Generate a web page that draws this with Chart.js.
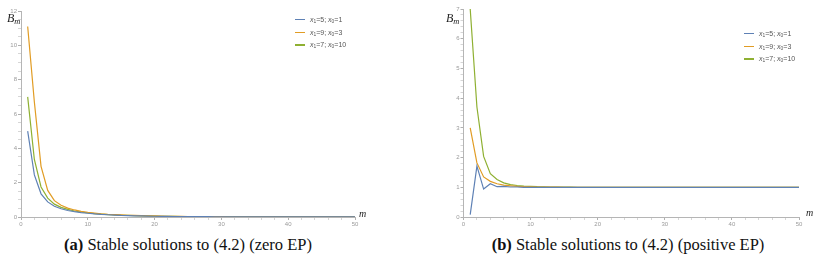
<!DOCTYPE html>
<html>
<head>
<meta charset="utf-8">
<script src="https://cdn.jsdelivr.net/npm/chart.js@4/dist/chart.umd.min.js"></script>
<style>
  html, body { margin: 0; padding: 0; background: #fff; }
  #wrap { position: relative; width: 824px; height: 272px; overflow: hidden; background: #fff; }
  .box { position: absolute; }
  .lbl { position: absolute; font-family: "Liberation Serif", serif; font-style: italic; color: #222; white-space: nowrap; line-height: 1; }
  .lbl sub { font-size: 0.7em; vertical-align: -0.25em; }
  .legend { position: absolute; font-family: "Liberation Sans", Arial, sans-serif; font-size: 7px; color: #555; line-height: 1; }
  .legend .row { position: relative; height: 12.7px; white-space: nowrap; }
  .legend .sw { position: absolute; left: 0; top: 3px; width: 10px; height: 1.3px; }
  .legend .tx { position: absolute; left: 15px; top: 0; }
  .legend i { font-style: italic; }
  .legend sub { font-size: 0.7em; vertical-align: -0.2em; }
  .cap { position: absolute; font-family: "Liberation Serif", "Times New Roman", serif; font-size: 16.5px; line-height: 16.5px; color: #111; text-align: center; white-space: nowrap; }
</style>
</head>
<body>
<div id="wrap">
  <div class="box" id="b1" style="left:0;top:0;width:420px;height:232px;"><canvas id="c1"></canvas></div>
  <div class="box" id="b2" style="left:420px;top:0;width:404px;height:232px;"><canvas id="c2"></canvas></div>

  <div class="lbl" style="left:7px;top:12px;font-size:12px;">B<sub>m</sub></div>
  <div class="lbl" style="left:359px;top:209px;font-size:10px;">m</div>
  <div class="lbl" style="left:446px;top:12px;font-size:12px;">B<sub>m</sub></div>
  <div class="lbl" style="left:806px;top:208px;font-size:10px;">m</div>

  <div class="legend" id="leg1" style="left:295px;top:16px;"></div>
  <div class="legend" id="leg2" style="left:744px;top:30px;"></div>

  <div class="cap" style="left:38px;top:237px;width:300px;"><b>(a)</b> Stable solutions to (4.2) (zero EP)</div>
  <div class="cap" style="left:478px;top:237px;width:300px;"><b>(b)</b> Stable solutions to (4.2) (positive EP)</div>
</div>
<script>
// ---- data ----
const mValues = [1,2,3,4,5,6,7,8,9,10,11,12,13,14,15,16,17,18,19,20,21,22,23,24,25,26,27,28,29,30,31,32,33,34,35,36,37,38,39,40,41,42,43,44,45,46,47,48,49,50];

const seriesLabels = ["x1=5; x0=1", "x1=9; x0=3", "x1=7; x0=10"];
const seriesColors = ["#5E81B5", "#E19C24", "#8FB032"];

// (a) zero EP
const zeroBlue = [5.0, 2.45, 1.35, 0.88, 0.63, 0.48, 0.38, 0.31, 0.26, 0.22, 0.18, 0.15, 0.13, 0.11, 0.09, 0.08, 0.07, 0.06, 0.05, 0.045, 0.04, 0.035, 0.03, 0.027, 0.024, 0.021, 0.019, 0.017, 0.015, 0.013, 0.012, 0.011, 0.01, 0.009, 0.008, 0.007, 0.007, 0.006, 0.006, 0.005, 0.005, 0.004, 0.004, 0.004, 0.003, 0.003, 0.003, 0.003, 0.002, 0.002];
const zeroOrange = [11.1, 6.7, 2.95, 1.55, 0.95, 0.68, 0.52, 0.41, 0.33, 0.27, 0.23, 0.19, 0.16, 0.14, 0.12, 0.1, 0.09, 0.08, 0.07, 0.06, 0.05, 0.045, 0.04, 0.035, 0.03, 0.027, 0.024, 0.021, 0.019, 0.017, 0.015, 0.014, 0.012, 0.011, 0.01, 0.009, 0.008, 0.008, 0.007, 0.006, 0.006, 0.005, 0.005, 0.005, 0.004, 0.004, 0.004, 0.003, 0.003, 0.003];
const zeroGreen = [7.0, 3.35, 1.75, 1.1, 0.75, 0.56, 0.44, 0.35, 0.29, 0.24, 0.2, 0.17, 0.14, 0.12, 0.1, 0.09, 0.08, 0.07, 0.06, 0.05, 0.045, 0.04, 0.035, 0.03, 0.027, 0.024, 0.021, 0.019, 0.017, 0.015, 0.013, 0.012, 0.011, 0.01, 0.009, 0.008, 0.007, 0.007, 0.006, 0.006, 0.005, 0.005, 0.004, 0.004, 0.004, 0.003, 0.003, 0.003, 0.003, 0.002];

// (b) positive EP
const posBlue = [0.08, 1.71, 0.94, 1.12, 1.02, 1.03, 1.01, 1.01, 1.0, 1.0, 1.0, 1.0, 1.0, 1.0, 1.0, 1.0, 1.0, 1.0, 1.0, 1.0, 1.0, 1.0, 1.0, 1.0, 1.0, 1.0, 1.0, 1.0, 1.0, 1.0, 1.0, 1.0, 1.0, 1.0, 1.0, 1.0, 1.0, 1.0, 1.0, 1.0, 1.0, 1.0, 1.0, 1.0, 1.0, 1.0, 1.0, 1.0, 1.0, 1.0];
const posOrange = [3.0, 1.82, 1.35, 1.2, 1.12, 1.07, 1.05, 1.03, 1.02, 1.015, 1.01, 1.01, 1.005, 1.005, 1.0, 1.0, 1.0, 1.0, 1.0, 1.0, 1.0, 1.0, 1.0, 1.0, 1.0, 1.0, 1.0, 1.0, 1.0, 1.0, 1.0, 1.0, 1.0, 1.0, 1.0, 1.0, 1.0, 1.0, 1.0, 1.0, 1.0, 1.0, 1.0, 1.0, 1.0, 1.0, 1.0, 1.0, 1.0, 1.0];
const posGreen = [7.0, 3.7, 2.04, 1.46, 1.26, 1.15, 1.09, 1.06, 1.04, 1.03, 1.02, 1.015, 1.01, 1.01, 1.005, 1.005, 1.0, 1.0, 1.0, 1.0, 1.0, 1.0, 1.0, 1.0, 1.0, 1.0, 1.0, 1.0, 1.0, 1.0, 1.0, 1.0, 1.0, 1.0, 1.0, 1.0, 1.0, 1.0, 1.0, 1.0, 1.0, 1.0, 1.0, 1.0, 1.0, 1.0, 1.0, 1.0, 1.0, 1.0];

const xTickMajor = [0, 10, 20, 30, 40, 50];

// ---- helpers ----
function pts(vals) { return vals.map((v, i) => ({ x: mValues[i], y: v })); }
function ds(vals, k) {
  return { label: seriesLabels[k], data: pts(vals), borderColor: seriesColors[k], backgroundColor: seriesColors[k],
           borderWidth: 1.2, pointRadius: 0, tension: 0, fill: false };
}
const isMult = (v, s) => Math.abs(v / s - Math.round(v / s)) < 1e-6;
const tickFont = { family: "'Liberation Sans', Arial, sans-serif", size: 6 };

function makeChart(id, datasets, yMax, yStep, yMajor, yWidth, pad) {
  return new Chart(document.getElementById(id), {
    type: 'line',
    data: { datasets },
    options: {
      responsive: true, maintainAspectRatio: false, animation: false,
      devicePixelRatio: 1,
      layout: { padding: pad },
      plugins: { legend: { display: false }, tooltip: { enabled: false } },
      scales: {
        x: {
          type: 'linear', min: 0, max: 50,
          afterFit: s => { s.height = 15; },
          border: { display: true, color: '#b5b5b5', width: 1 },
          grid: { display: true, drawOnChartArea: false, drawTicks: true, tickLength: 3,
                  tickColor: c => xTickMajor.includes(c.tick.value) ? '#b0b0b0' : '#d6d6d6', tickWidth: 1 },
          ticks: { stepSize: 2, autoSkip: false, maxRotation: 0, padding: 1, color: '#9a9a9a', font: tickFont,
                   callback: v => xTickMajor.includes(v) ? String(v) : '' }
        },
        y: {
          type: 'linear', min: 0, max: yMax,
          afterFit: s => { s.width = yWidth; },
          border: { display: true, color: '#b5b5b5', width: 1 },
          grid: { display: true, drawOnChartArea: false, drawTicks: true, tickLength: 3,
                  tickColor: c => isMult(c.tick.value, yMajor) ? '#b0b0b0' : '#d6d6d6', tickWidth: 1 },
          ticks: { stepSize: yStep, autoSkip: false, padding: 1, color: '#9a9a9a', font: tickFont,
                   callback: v => isMult(v, yMajor) ? String(Math.round(v)) : '' }
        }
      }
    }
  });
}

makeChart('c1', [ds(zeroBlue, 0), ds(zeroOrange, 1), ds(zeroGreen, 2)], 12, 0.5, 2, 21,
          { top: 11, right: 65, bottom: 0, left: 0 });
makeChart('c2', [ds(posBlue, 0), ds(posOrange, 1), ds(posGreen, 2)], 7, 0.2, 1, 43.5,
          { top: 9, right: 25, bottom: 0, left: 0 });

// legends (HTML)
const legendHtml = [
  '<i>x</i><sub>1</sub>=5; <i>x</i><sub>0</sub>=1',
  '<i>x</i><sub>1</sub>=9; <i>x</i><sub>0</sub>=3',
  '<i>x</i><sub>1</sub>=7; <i>x</i><sub>0</sub>=10'
];
['leg1', 'leg2'].forEach(id => {
  const el = document.getElementById(id);
  el.innerHTML = legendHtml.map((h, k) =>
    '<div class="row"><div class="sw" style="background:' + seriesColors[k] + '"></div><div class="tx">' + h + '</div></div>').join('');
});
</script>
</body>
</html>
